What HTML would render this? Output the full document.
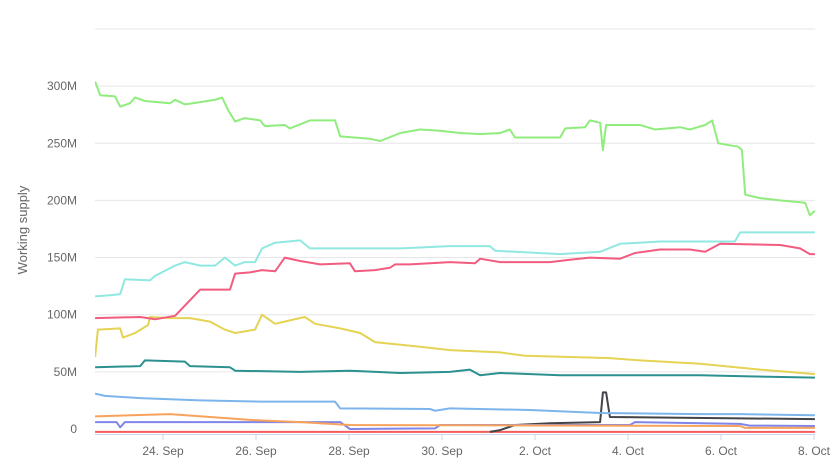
<!DOCTYPE html>
<html><head><meta charset="utf-8"><style>
html,body{margin:0;padding:0;background:#fff;}
svg{display:block;font-family:"Liberation Sans",sans-serif;}
</style></head><body>
<svg id="chart" width="832" height="470" xmlns="http://www.w3.org/2000/svg">
<g id="grid"></g>
<g id="yaxis"></g>
<g id="xaxis"></g>
<g id="series"></g>
<text x="27" y="230" transform="rotate(-90 27 230)" text-anchor="middle" font-size="13" fill="#666">Working supply</text>
</svg>
<script>
// x values are days: Sept day-of-month, October = 30 + day
const yTicks = [0, 50, 100, 150, 200, 250, 300, 350];
const yTickLabels = ["0", "50M", "100M", "150M", "200M", "250M", "300M", ""];
const xTicks = [24, 26, 28, 30, 32, 34, 36, 38];
const xTickLabels = ["24. Sep", "26. Sep", "28. Sep", "30. Sep", "2. Oct", "4. Oct", "6. Oct", "8. Oct"];
const seriesNames = ["green", "cyan", "pink", "yellow", "teal", "lightblue", "orange", "purple", "black", "red"];
const seriesColors = ["#90ed7d", "#91e8e1", "#f15c80", "#e4d354", "#2b908f", "#7cb5ec", "#f7a35c", "#8085e9", "#434348", "#f45b5b"];
const greenData = [[22.54,304],[22.65,292],[22.97,291],[23.08,282],[23.29,285],[23.40,290],[23.61,287],[24.15,285],[24.26,288],[24.47,284],[24.80,286],[25.12,288],[25.27,290],[25.40,279],[25.55,269],[25.76,272],[26.09,270],[26.19,265],[26.62,266],[26.73,263],[27.16,270],[27.70,270],[27.81,256],[28.45,254],[28.67,252],[29.10,259],[29.53,262],[29.96,261],[30.39,259],[30.82,258],[31.25,259],[31.46,262],[31.57,255],[32.54,255],[32.65,263],[33.08,264],[33.18,270],[33.40,268],[33.46,244],[33.53,266],[34.26,266],[34.58,262],[35.12,264],[35.33,262],[35.66,266],[35.81,270],[35.94,250],[36.37,247],[36.45,244],[36.52,205],[36.84,202],[37.27,200],[37.81,198],[37.91,187],[38.02,191]];
const cyanData = [[22.54,116],[22.86,117],[23.08,118],[23.18,131],[23.72,130],[23.83,134],[24.26,143],[24.47,146],[24.80,143],[25.12,143],[25.33,150],[25.55,143],[25.76,146],[25.98,146],[26.13,158],[26.41,163],[26.95,165],[27.16,158],[28.02,158],[29.10,158],[30.17,160],[31.03,160],[31.14,156],[31.57,155],[32.54,153],[33.40,155],[33.83,162],[34.69,164],[35.55,164],[36.30,164],[36.41,172],[37.27,172],[38.02,172]];
const pinkData = [[22.54,97],[23.51,98],[23.83,96],[24.26,99],[24.47,108],[24.80,122],[25.44,122],[25.55,136],[25.87,137],[26.13,139],[26.41,138],[26.62,150],[26.95,147],[27.38,144],[28.02,145],[28.13,138],[28.56,139],[28.88,141],[28.99,144],[29.31,144],[29.74,145],[30.17,146],[30.71,145],[30.82,149],[31.25,146],[31.68,146],[32.32,146],[32.75,148],[33.18,150],[33.83,149],[34.15,154],[34.69,157],[35.33,157],[35.66,155],[35.98,162],[37.27,161],[37.70,158],[37.91,153],[38.02,153]];
const yellowData = [[22.54,63],[22.60,87],[23.08,88],[23.14,80],[23.40,84],[23.68,91],[23.72,98],[24.15,97],[24.58,97],[25.01,94],[25.33,87],[25.55,84],[25.98,87],[26.13,100],[26.41,92],[26.73,95],[27.05,98],[27.27,92],[27.81,88],[28.24,84],[28.56,76],[29.53,72],[30.17,69],[31.25,67],[31.78,64],[32.75,63],[33.61,62],[34.26,60],[35.55,57],[36.84,52],[38.02,48]];
const tealData = [[22.54,54],[23.51,55],[23.61,60],[24.47,59],[24.58,55],[25.44,54],[25.55,51],[26.95,50],[28.02,51],[29.10,49],[30.17,50],[30.60,52],[30.82,47],[31.25,49],[32.54,47],[33.40,47],[35.55,47],[36.62,46],[38.02,45]];
const lightblueData = [[22.54,31],[22.75,29],[23.51,27],[24.80,25],[26.09,24],[27.70,24],[27.81,18],[29.74,17.5],[29.85,16],[30.17,18],[31.89,16.6],[33.40,14],[35.55,13],[36.41,13],[38.02,12]];
const orangeData = [[22.54,11],[24.15,13],[25.87,8],[26.95,6],[28.02,3.5],[36.41,2.6],[36.52,1],[38.02,1]];
const purpleData = [[22.54,6],[23.00,6],[23.08,1.5],[23.18,6],[27.81,6],[28.02,0],[29.85,0.5],[29.96,3.5],[34.04,3.5],[34.15,6],[36.41,4.5],[36.62,3],[38.02,2.6]];
const blackData = [[31.03,-2.5],[31.25,-1],[31.57,3.5],[32.32,5],[33.40,6],[33.46,32],[33.53,32],[33.61,10.5],[38.02,8.7]];
const redData = [[22.54,-2.5],[38.02,-2.5]];
const allData = [greenData, cyanData, pinkData, yellowData, tealData, lightblueData, orangeData, purpleData, blackData, redData];

const NS = "http://www.w3.org/2000/svg";
const plotL = 95, plotR = 815, plotB = 434;
function xScale(d){ return 163 + (d - 24) * 46.5; }
function yScale(v){ return 429 - v * 1.143; }
function mk(tag, attrs, parent){ const e = document.createElementNS(NS, tag); for (const k in attrs) e.setAttribute(k, attrs[k]); parent.appendChild(e); return e; }

const grid = document.getElementById('grid'), ya = document.getElementById('yaxis'), xa = document.getElementById('xaxis'), sg = document.getElementById('series');
yTicks.forEach((t, i) => {
  const y = yScale(t);
  if (t !== 0) {
    const l = mk('line', {x1: plotL, x2: plotR, y1: y, y2: y, stroke: '#e6e6e6', 'stroke-width': 1}, grid);
    
    
  }
  if (yTickLabels[i]) {
    const tx = mk('text', {x: 77, y: y + 4, 'text-anchor': 'end', 'font-size': 12, fill: '#666'}, ya);
    tx.textContent = yTickLabels[i];
    
    
  }
});
const axl = mk('line', {x1: plotL, x2: plotR, y1: plotB + 0.5, y2: plotB + 0.5, stroke: '#ccd6eb', 'stroke-width': 1}, xa);


xTicks.forEach((t, i) => {
  const x = xScale(t);
  const tk = mk('line', {x1: x, x2: x, y1: plotB, y2: plotB + 6, stroke: '#ccd6eb', 'stroke-width': 1}, xa);
  
  
  const tx = mk('text', {x: x, y: 455, 'text-anchor': 'middle', 'font-size': 12, fill: '#666'}, xa);
  tx.textContent = xTickLabels[i];
  
  
});
const clip = mk('clipPath', {id: 'pc'}, document.getElementById('chart'));
mk('rect', {x: plotL, y: 0, width: plotR - plotL + 2, height: plotB}, clip);
sg.setAttribute('clip-path', 'url(#pc)');
for (let s = allData.length - 1; s >= 0; s--) {
  const pts = allData[s].map(p => xScale(p[0]).toFixed(1) + ',' + yScale(p[1]).toFixed(1)).join(' ');
  const pl = mk('polyline', {points: pts, fill: 'none', stroke: seriesColors[s], 'stroke-width': 2, 'stroke-linejoin': 'round'}, sg);
  
  
}
</script>
</body></html>
